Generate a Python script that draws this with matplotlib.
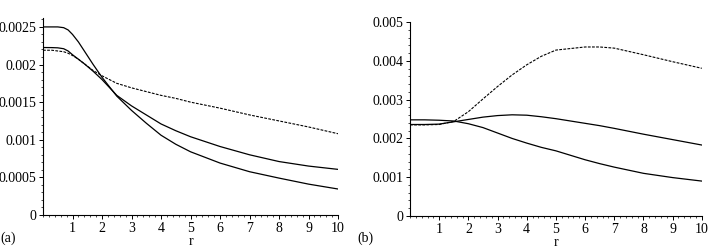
import matplotlib.pyplot as plt
from matplotlib.ticker import AutoMinorLocator

plt.rcParams['font.family'] = ['Liberation Serif', 'DejaVu Serif']
plt.rcParams['font.size'] = 10

# panel (a)
r_a = [0, 0.3, 0.5, 0.7, 0.85, 1, 1.2, 1.4, 1.7, 2, 2.5, 3, 3.5, 4, 4.5, 5, 6, 7, 8, 9, 10]
a_top = [0.0025, 0.0025, 0.0025, 0.00249, 0.00246, 0.0024, 0.0023, 0.00218, 0.002, 0.00183,
         0.00158, 0.00139, 0.00122, 0.00106, 0.00094, 0.00084, 0.00069, 0.000575, 0.00049,
         0.00041, 0.000345]
a_mid = [0.002226, 0.002225, 0.002222, 0.00221, 0.00218, 0.00213, 0.00207, 0.00201, 0.00191,
         0.0018, 0.00159, 0.00145, 0.00133, 0.00121, 0.00112, 0.00104, 0.00091, 0.0008,
         0.00071, 0.00065, 0.000606]
a_dash = [0.00219, 0.00219, 0.00218, 0.00217, 0.00215, 0.00212, 0.00207, 0.00201, 0.00192,
          0.00185, 0.00175, 0.00169, 0.00164, 0.00159, 0.00155, 0.0015, 0.00142, 0.00133,
          0.00125, 0.00117, 0.00108]

# panel (b)
r_b = [0, 0.5, 1, 1.5, 2, 2.5, 3, 3.5, 4, 4.5, 5, 6, 6.5, 7, 8, 9, 10]
b_down = [0.00248, 0.00248, 0.00247, 0.00245, 0.00238, 0.00228, 0.00214, 0.002, 0.00188,
          0.00177, 0.00168, 0.00145, 0.00135, 0.00126, 0.0011, 0.00099, 0.0009]
b_hump = [0.00236, 0.00236, 0.00237, 0.00243, 0.00249, 0.00255, 0.00259, 0.00261, 0.0026,
          0.00256, 0.00251, 0.00239, 0.00233, 0.00226, 0.00211, 0.00197, 0.00183]
b_dash = [0.00235, 0.00235, 0.00236, 0.00244, 0.00269, 0.00302, 0.00334, 0.00364, 0.0039,
          0.00412, 0.00428, 0.00436, 0.00436, 0.00433, 0.00416, 0.00398, 0.00381]

xticks = [1, 2, 3, 4, 5, 6, 7, 8, 9, 10]
yticks_a = [0, 0.0005, 0.001, 0.0015, 0.002, 0.0025]
ylabels_a = ['0', '0.0005', '0.001', '0.0015', '0.002', '0.0025']
yticks_b = [0, 0.001, 0.002, 0.003, 0.004, 0.005]
ylabels_b = ['0', '0.001', '0.002', '0.003', '0.004', '0.005']

fig = plt.figure(figsize=(7.1, 2.52), dpi=100)
ax1 = fig.add_axes([0.0606, 0.147, 0.4155, 0.782])
ax2 = fig.add_axes([0.5775, 0.143, 0.411, 0.769])

dash = (0, (2.5, 1.2))
ax1.plot(r_a, a_top, color='black', lw=0.9)
ax1.plot(r_a, a_mid, color='black', lw=0.9)
ax1.plot(r_a, a_dash, color='black', lw=0.8, ls=dash)
ax2.plot(r_b, b_down, color='black', lw=0.9)
ax2.plot(r_b, b_hump, color='black', lw=0.9)
ax2.plot(r_b, b_dash, color='black', lw=0.8, ls=dash)

for ax, yt, yl, ytop in [(ax1, yticks_a, ylabels_a, 0.00262),
                         (ax2, yticks_b, ylabels_b, 0.005)]:
    ax.set_xlim(0, 10)
    ax.set_ylim(0, ytop)
    ax.set_xticks(xticks)
    ax.set_yticks(yt)
    ax.set_yticklabels(yl)
    ax.xaxis.set_minor_locator(AutoMinorLocator(5))
    ax.yaxis.set_minor_locator(AutoMinorLocator(5))
    ax.spines['top'].set_visible(False)
    ax.spines['right'].set_visible(False)
    ax.spines['left'].set_linewidth(0.8)
    ax.spines['bottom'].set_linewidth(0.8)
    ax.tick_params(which='major', length=3, width=0.7, pad=2)
    ax.tick_params(which='minor', length=1.5, width=0.5)
    ax.set_xlabel('r', labelpad=0)

fig.text(0.0, 0.056, '(a)', ha='left', va='center')
fig.text(0.504, 0.056, '(b)', ha='left', va='center')

fig.savefig('out.png', dpi=100)
